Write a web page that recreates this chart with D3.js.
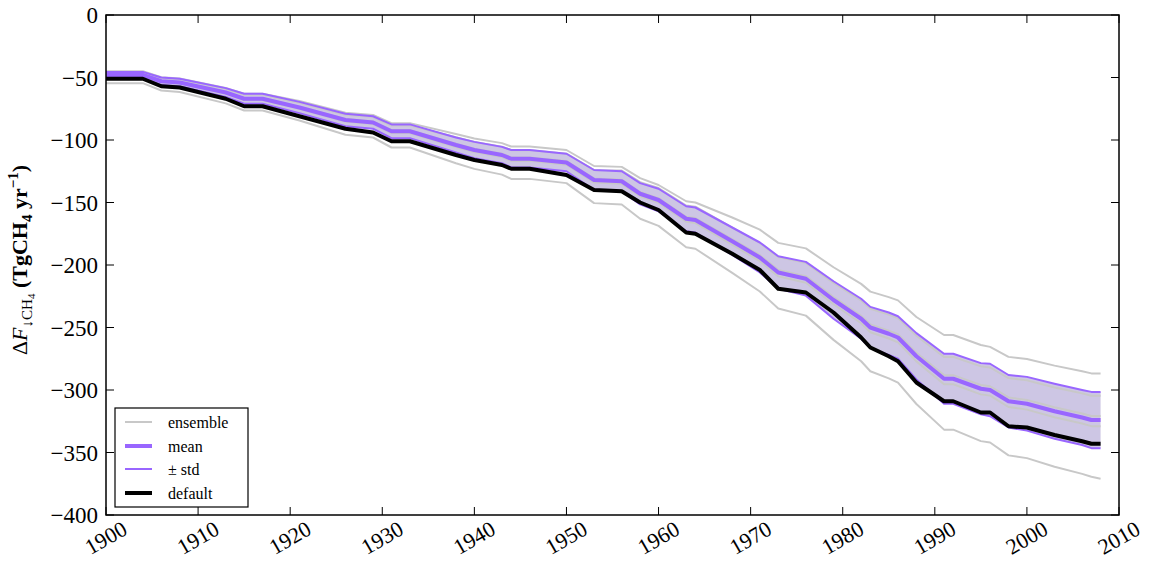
<!DOCTYPE html>
<html>
<head>
<meta charset="utf-8">
<script src="https://cdn.jsdelivr.net/npm/d3@7"></script>
<style>
  html, body { margin: 0; padding: 0; background: #ffffff; }
  svg { display: block; }
  text { font-family: "Liberation Serif", "DejaVu Serif", serif; fill: #000; }
</style>
</head>
<body>
<svg id="chart" width="1149" height="562"></svg>
<script>
// ---------------- data ----------------
const years = [1900,1904,1906,1908,1913,1915,1917,1921,1926,1929,1931,1933,1938,1940,1943,1944,1946,1950,1953,1956,1958,1960,1963,1964,1968,1971,1973,1976,1979,1982,1983,1985,1986,1988,1991,1992,1995,1996,1998,2000,2003,2006,2007,2008];

const defaultVals = [-51,-51,-57,-58,-67,-73,-73,-81,-91,-94,-101,-101,-112,-116,-120,-123,-123,-128,-140,-141,-150,-156,-174,-175,-191,-204,-219,-222,-238,-258,-266,-273,-277,-294,-309,-309,-318,-318,-329,-330,-336,-341,-343,-343];

const meanVals = [-48,-48,-53,-54,-62,-67,-67,-74,-84,-86,-93,-93,-104,-108,-112,-115,-115,-118,-132,-133,-143,-148,-163,-164,-181,-194,-206,-211,-228,-243,-250,-255,-258,-273,-291,-291,-299,-300,-309,-311,-317,-322,-324,-324];

const stdVals = [2.5,2.5,3,3,3.5,4,4,4.5,5,5,5.5,5.5,6,6.5,6.5,7,7,7,8,8,8.5,9,10,10,11,12,13,13.5,15,16,16.5,17,17,18.5,20,20,20.5,21,21,21.5,22,22,22.5,22.5];

const ensMax = [-45,-45,-49.8,-50.8,-58.3,-63,-63,-68.8,-78.1,-80,-86.5,-86.5,-95.2,-98.8,-102.5,-105.2,-105.2,-108,-120.8,-121.5,-130.5,-136,-149,-150,-162,-171.7,-182.3,-186.7,-201.8,-215.1,-221.3,-225.7,-228.3,-241.6,-256,-256,-264,-265.5,-273.5,-275.2,-280.5,-285,-286.7,-286.7];
const ensUpper = [-46,-46,-50.5,-51.5,-59,-63.8,-63.8,-70.3,-79.8,-81.7,-88.4,-88.4,-97.8,-101.5,-105.3,-108.1,-108.1,-110.9,-124.1,-124.4,-133.7,-138.4,-152.4,-153.3,-170.1,-182.4,-193.6,-198.3,-214.3,-228.4,-235,-239.7,-242.5,-256.6,-273.5,-273.5,-281.1,-282,-290.5,-292.3,-298,-302.7,-304.6,-304.6];
const ensMidA = [-47.5,-47.5,-52.5,-53.5,-61.4,-66.3,-66.3,-73.3,-83.2,-85.1,-92.1,-92.1,-103,-106.9,-110.9,-113.9,-113.9,-116.8,-130.7,-131.7,-141.6,-146.5,-161.4,-162.4,-179.2,-192.1,-203.9,-208.9,-225.7,-240.6,-247.5,-252.5,-255.4,-270.3,-288.1,-288.1,-296,-297,-305.9,-307.9,-313.8,-318.8,-320.8,-320.8];
const ensMidB = [-48.7,-48.7,-53.8,-54.8,-62.9,-68,-68,-75.1,-85.3,-87.3,-94.4,-94.4,-105.6,-109.6,-113.7,-116.7,-116.7,-119.8,-134,-135,-145.1,-150.2,-165.4,-166.5,-183.7,-196.9,-209.1,-214.2,-231.4,-246.6,-253.8,-258.8,-261.9,-277.1,-295.4,-295.4,-303.5,-304.5,-313.6,-315.7,-321.8,-326.8,-328.9,-328.9];
const ensMin = [-54.5,-54.5,-60.4,-61.6,-70.7,-76.4,-76.4,-84.4,-95.8,-98,-106,-106,-118.6,-123.1,-127.7,-131.1,-131.1,-134.5,-150.5,-151.6,-163,-168.7,-185.8,-187,-206.3,-221.2,-234.8,-240.5,-259.9,-277,-285,-290.7,-294.1,-311.2,-331.7,-331.7,-340.9,-342,-352.3,-354.5,-361.4,-367.1,-369.4,-371];

const xTicks = [1900,1910,1920,1930,1940,1950,1960,1970,1980,1990,2000,2010];
const yTicks = [0,-50,-100,-150,-200,-250,-300,-350,-400];
const legendLabels = ["ensemble","mean","\u00b1 std","default"];

// ---------------- layout ----------------
const svg = d3.select("#chart");
const L = 106, T = 15, R = 1119, B = 515;
const x = d3.scaleLinear().domain([1900, 2010]).range([L, R]);
const y = d3.scaleLinear().domain([-400, 0]).range([B, T]);

const colGray = "#c8c8c8";
const colPurple = "#9966ff";
const colFill = "#cdc6e4";

const ensembles = [ensMax, ensUpper, ensMidA, ensMidB, ensMin];
const line = d3.line().x(d => x(d[0])).y(d => y(d[1]));
const pairs = arr => years.map((yr, i) => [yr, arr[i]]);

const g = svg.append("g");

// fill mean +- std
const area = d3.area()
  .x((d, i) => x(years[i]))
  .y0((d, i) => y(meanVals[i] - stdVals[i]))
  .y1((d, i) => y(meanVals[i] + stdVals[i]));
g.append("path").datum(meanVals).attr("d", area).attr("fill", colFill).attr("stroke", "none");

// ensemble lines
ensembles.forEach(arr => {
  g.append("path").datum(pairs(arr)).attr("d", line)
    .attr("fill", "none").attr("stroke", colGray).attr("stroke-width", 2)
    .attr("stroke-linejoin", "round");
});

// std lines
const upperStd = years.map((yr, i) => [yr, meanVals[i] + stdVals[i]]);
const lowerStd = years.map((yr, i) => [yr, meanVals[i] - stdVals[i]]);
[upperStd, lowerStd].forEach(d => {
  g.append("path").datum(d).attr("d", line)
    .attr("fill", "none").attr("stroke", colPurple).attr("stroke-width", 2)
    .attr("stroke-linejoin", "round");
});
// mean
g.append("path").datum(pairs(meanVals)).attr("d", line)
  .attr("fill", "none").attr("stroke", colPurple).attr("stroke-width", 4)
  .attr("stroke-linejoin", "round");
// default
g.append("path").datum(pairs(defaultVals)).attr("d", line)
  .attr("fill", "none").attr("stroke", "#000").attr("stroke-width", 4)
  .attr("stroke-linejoin", "round");

// ---------------- axes (ticks inside, all four sides) ----------------
const tickLen = 8;
const ax = svg.append("g").attr("stroke", "#000").attr("stroke-width", 1);
xTicks.forEach(t => {
  ax.append("line").attr("x1", x(t)).attr("x2", x(t)).attr("y1", B).attr("y2", B - tickLen);
  ax.append("line").attr("x1", x(t)).attr("x2", x(t)).attr("y1", T).attr("y2", T + tickLen);
});
yTicks.forEach(t => {
  ax.append("line").attr("x1", L).attr("x2", L + tickLen).attr("y1", y(t)).attr("y2", y(t));
  ax.append("line").attr("x1", R).attr("x2", R - tickLen).attr("y1", y(t)).attr("y2", y(t));
});
svg.append("rect").attr("x", L).attr("y", T).attr("width", R - L).attr("height", B - T)
  .attr("fill", "none").attr("stroke", "#000").attr("stroke-width", 1.5);

// y tick labels
const fmt = v => (v < 0 ? "\u2212" + Math.abs(v) : String(v));
yTicks.forEach(t => {
  svg.append("text").attr("x", L - 8).attr("y", y(t)).attr("dy", "0.35em")
    .attr("text-anchor", "end").attr("font-size", 23).text(fmt(t));
});
// x tick labels, rotated 30deg, centred under tick
xTicks.forEach(t => {
  svg.append("text")
    .attr("transform", `translate(${x(t)},${538}) rotate(-30)`)
    .attr("text-anchor", "middle").attr("dy", "0.33em")
    .attr("font-size", 22).text(String(t));
});

// y axis label
const yl = svg.append("text")
  .attr("transform", "translate(27,260) rotate(-90)")
  .attr("text-anchor", "middle").attr("font-size", 22);
yl.append("tspan").text("\u0394");
yl.append("tspan").attr("font-style", "italic").text("F");
yl.append("tspan").attr("font-size", 15).attr("dy", 5).text("\u2193CH");
yl.append("tspan").attr("font-size", 11).attr("dy", 3).text("4");
yl.append("tspan").attr("font-weight", "bold").attr("dy", -8).text(" (TgCH");
yl.append("tspan").attr("font-weight", "bold").attr("font-size", 15).attr("dy", 5).text("4");
yl.append("tspan").attr("font-weight", "bold").attr("dy", -5).text(" yr");
yl.append("tspan").attr("font-weight", "bold").attr("font-size", 15).attr("dy", -9).text("\u22121");
yl.append("tspan").attr("font-weight", "bold").attr("dy", 9).text(")");

// ---------------- legend ----------------
const lg = svg.append("g");
lg.append("rect").attr("x", 115).attr("y", 408).attr("width", 133).attr("height", 99)
  .attr("fill", "#fff").attr("stroke", "#000").attr("stroke-width", 1.2);
const legStyles = [
  {c: colGray, w: 2}, {c: colPurple, w: 4}, {c: colPurple, w: 2}, {c: "#000", w: 4}
];
const legY = [422, 446, 469, 493];
legendLabels.forEach((lab, i) => {
  lg.append("line").attr("x1", 125).attr("x2", 152).attr("y1", legY[i]).attr("y2", legY[i])
    .attr("stroke", legStyles[i].c).attr("stroke-width", legStyles[i].w);
  lg.append("text").attr("x", 168).attr("y", legY[i]).attr("dy", "0.35em")
    .attr("font-size", 16).text(lab);
});
</script>
</body>
</html>
